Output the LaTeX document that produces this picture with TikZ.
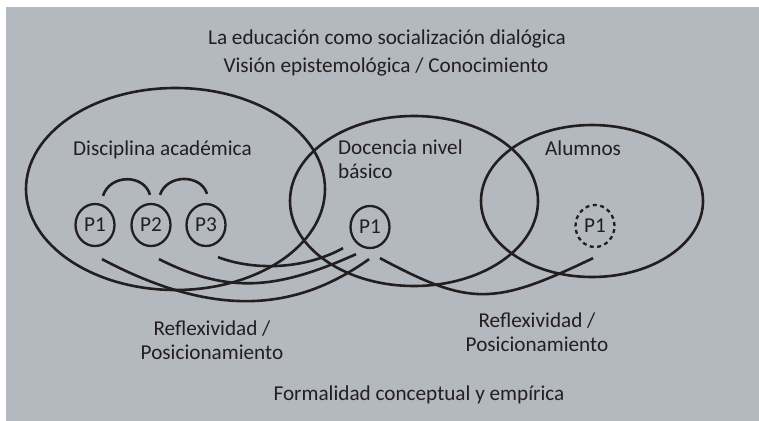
\documentclass[tikz,border=0pt]{standalone}
\usepackage{fontspec}
\setmainfont{Carlito}
\usetikzlibrary{shapes.geometric,calc}
\definecolor{bggray}{RGB}{180,184,191}
\definecolor{ink}{RGB}{35,31,32}
\tikzset{
  ring/.style={draw=ink, line width=2.6pt, ellipse, inner sep=0pt},
  pcirc/.style={draw=ink, line width=2.3pt, ellipse, minimum width=39pt, minimum height=42pt, inner sep=0pt, text=ink},
  pdash/.style={pcirc, dash pattern=on 4pt off 3.5pt},
  lbl/.style={text=ink, inner sep=0pt, font=\fontsize{21.2pt}{24pt}\selectfont},
  link/.style={draw=ink, line width=2.6pt}
}
\begin{document}
\begin{tikzpicture}[x=1pt,y=-1pt]
\useasboundingbox (0,0) rectangle (759,420);
\fill[bggray] (-5,-5) rectangle (770,430);
\fill[white] (-5,-5) rectangle (770,7);
\fill[white] (-5,-5) rectangle (6,430);

% big ellipses
\node[ring, minimum width=299pt, minimum height=202pt] (dis) at (175.5,189) {};
\node[ring, minimum width=248pt, minimum height=170pt] (doc) at (414,201) {};
\node[ring, minimum width=222pt, minimum height=152pt] (alu) at (592,201) {};

% titles
\node[lbl] (t1) at (387,39) {La educación como socialización dialógica};
\node[lbl] (t2) at (386,67) {Visión epistemológica / Conocimiento};
\node[lbl, anchor=west] (ldis) at (73,150) {Disciplina académica};
\node[lbl, anchor=north west, align=left] (ldoc) at (338,140) {Docencia nivel\\básico};
\node[lbl, anchor=west] (lalu) at (545,148) {Alumnos};
\node[lbl, align=center] (r1) at (212,340) {Reflexividad /\\Posicionamiento};
\node[lbl, align=center] (r2) at (537,332) {Reflexividad /\\Posicionamiento};
\node[lbl] (form) at (419,395) {Formalidad conceptual y empírica};

% small circles
\node[pcirc, lbl] (p1) at (95,225) {P1};
\node[pcirc, lbl] (p2) at (151,225) {P2};
\node[pcirc, lbl] (p3) at (206,225) {P3};
\node[pcirc, lbl] (dp1) at (370,227) {P1};
\node[pdash, lbl] (ap1) at (595,226) {P1};

% top arcs
\draw[link] ([shift={(8,-7)}]p1.north) .. controls +(7,-22) and +(-6,-21) .. ([shift={(-1,-8)}]p2.north);
\draw[link] ([shift={(9,-8)}]p2.north) .. controls +(7,-21) and +(-6,-20) .. ([shift={(1,-9)}]p3.north);

% bottom curves
\draw[link] ([shift={(7,12)}]p1.south) .. controls +(106,56) and +(-78,56) .. ([shift={(-1,10)}]dp1.south);
\draw[link] ([shift={(8,12)}]p2.south) .. controls +(66,33) and +(-84,38) .. ([shift={(-14,5)}]dp1.south);
\draw[link] ([shift={(12,10)}]p3.south) .. controls +(37,14) and +(-38,21) .. ([shift={(-27,-1)}]dp1.south);
\draw[link] ([shift={(10,9)}]dp1.south) .. controls +(90,48) and +(-100,48) .. ([shift={(-2,10)}]ap1.south);
\end{tikzpicture}
\end{document}
